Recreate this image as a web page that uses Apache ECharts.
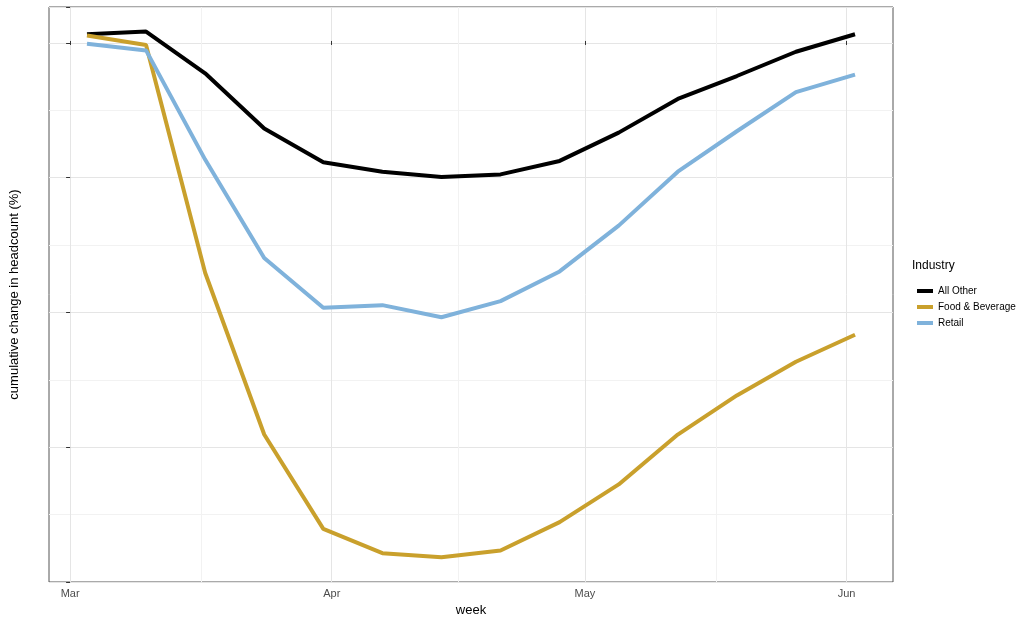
<!DOCTYPE html>
<html><head><meta charset="utf-8">
<script src="https://cdn.jsdelivr.net/npm/echarts@6/dist/echarts.min.js"></script>
<style>html,body{margin:0;padding:0;background:#fff}#c{width:1024px;height:622px}</style>
</head><body><div id="c"></div>
<script>
// x values: days since 2020-03-01 (weekly, Mar 3 .. Jun 2)
const weekDays = [2,9,16,23,30,37,44,51,58,65,72,79,86,93];
const allOther = [0.25,0.35,-1.2,-3.25,-4.5,-4.85,-5.05,-4.95,-4.45,-3.4,-2.15,-1.3,-0.4,0.25];
const foodBev = [0.2,-0.15,-8.6,-14.6,-18.1,-19.0,-19.15,-18.9,-17.85,-16.45,-14.6,-13.15,-11.9,-10.9];
const retail = [-0.1,-0.35,-4.4,-8.05,-9.9,-9.8,-10.25,-9.65,-8.55,-6.85,-4.85,-3.35,-1.9,-1.25];
const monthTicks = [0,31,61,92];
const monthNames = ['Mar','Apr','May','Jun'];
const minorX = [15.5,46,76.5];
const pairs = arr => weekDays.map((d,i)=>[d,arr[i]]);
const chart = echarts.init(document.getElementById('c'));
const txt = {color:'#4d4d4d',fontSize:11,fontFamily:'Liberation Sans, Arial'};
const gridLines = monthTicks.map(v=>({xAxis:v,lineStyle:{color:'#e5e5e5'}})).concat(minorX.map(v=>({xAxis:v,lineStyle:{color:'#f2f2f2'}})));
chart.setOption({
  animation:false,
  grid:{left:42,right:131,top:7,bottom:37,show:true,borderColor:'#555',borderWidth:1,backgroundColor:'#fff'},
  xAxis:{type:'value',min:-2.5,max:97.5,name:'week',nameLocation:'middle',nameGap:22,
    nameTextStyle:{color:'#000',fontSize:13,fontFamily:'Liberation Sans, Arial'},
    axisLine:{show:false},
    axisTick:{show:true,customValues:monthTicks,length:4,lineStyle:{color:'#333'}},
    axisLabel:Object.assign({customValues:monthTicks,formatter:v=>monthNames[monthTicks.indexOf(v)]||'',margin:6},txt),
    splitLine:{show:false}},
  yAxis:{type:'value',min:-20.07,max:1.26,interval:5,name:'cumulative change in headcount (%)',nameLocation:'middle',nameGap:28,
    nameTextStyle:{color:'#000',fontSize:13,fontFamily:'Liberation Sans, Arial'},
    axisLine:{show:false},axisTick:{show:true,length:4,lineStyle:{color:'#333'}},
    axisLabel:Object.assign({margin:6,formatter:v=>{const r=Math.round(v);return Math.abs(v-r)<0.01?String(r).replace('-','\u2212'):'';}},txt),
    splitLine:{show:true,lineStyle:{color:'#e5e5e5'}},
    minorTick:{show:false,splitNumber:2},minorSplitLine:{show:true,lineStyle:{color:'#f2f2f2'}}},
  legend:{orient:'vertical',left:912,top:281,itemWidth:16,itemHeight:4,itemGap:6,icon:'rect',
    textStyle:{color:'#000',fontSize:10,fontFamily:'Liberation Sans, Arial'},
    data:['All Other','Food & Beverage','Retail']},
  graphic:[{type:'text',left:912,top:260,style:{text:'Industry',fill:'#000',fontSize:12,fontFamily:'Liberation Sans, Arial'}}],
  series:[
    {name:'All Other',type:'line',data:pairs(allOther),showSymbol:false,lineStyle:{width:4,color:'#000'},itemStyle:{color:'#000'},z:3,
      markLine:{silent:true,symbol:'none',label:{show:false},lineStyle:{type:'solid',width:1},z:0,data:gridLines}},
    {name:'Food & Beverage',type:'line',data:pairs(foodBev),showSymbol:false,lineStyle:{width:4,color:'#c9a02c'},itemStyle:{color:'#c9a02c'},z:3},
    {name:'Retail',type:'line',data:pairs(retail),showSymbol:false,lineStyle:{width:4,color:'#7fb2db'},itemStyle:{color:'#7fb2db'},z:3}
  ]
});
</script></body></html>
